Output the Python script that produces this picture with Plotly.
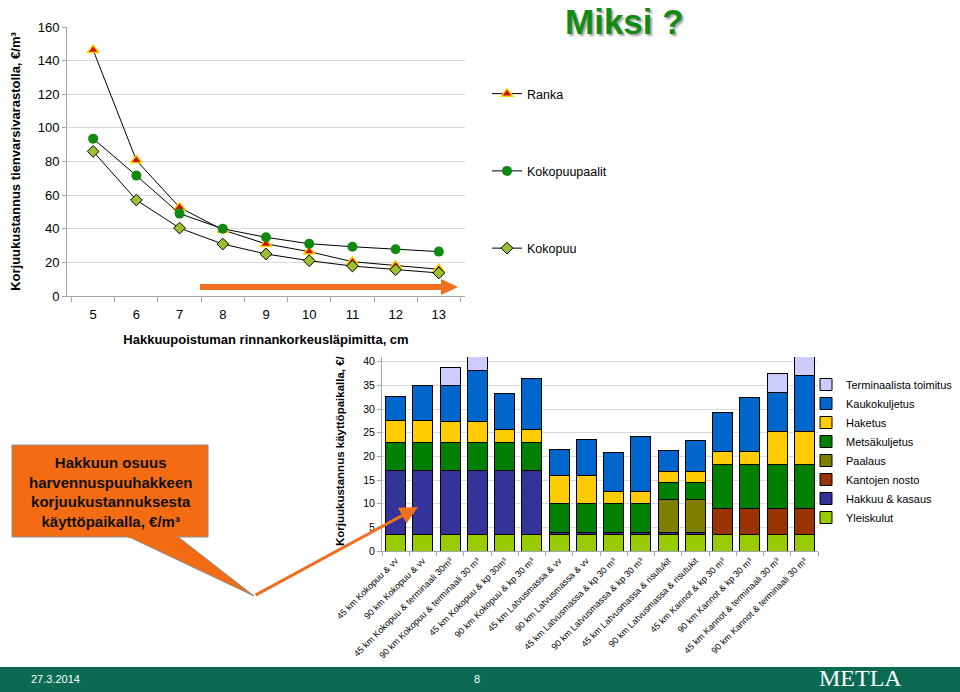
import plotly.graph_objects as go

W, H = 960, 692
def px(x): return x / W
def py(y): return 1 - y / H

# ---------- top chart data ----------
diameters = ["5", "6", "7", "8", "9", "10", "11", "12", "13"]
ranka = [146.3, 80.7, 52.7, 39.3, 31.0, 26.4, 20.4, 18.0, 15.9]
kokopuupaalit = [93.6, 71.6, 49.0, 40.0, 34.9, 31.1, 29.3, 27.8, 26.4]
kokopuu = [86.0, 57.1, 40.4, 30.9, 25.0, 21.0, 17.8, 15.6, 13.7]

# ---------- bottom chart data ----------
chains = [
    "45 km Kokopuu & vv", "90 km Kokopuu & vv",
    "45 km Kokopuu & terminaali 30m³", "90 km Kokopuu & terminaali 30 m³",
    "45 km Kokopuu & kp 30m³", "90 km Kokopuu & kp 30 m³",
    "45 km Latvusmassa & vv", "90 km Latvusmassa & vv",
    "45 km Latvusmassa & kp 30 m³", "90 km Latvusmassa & kp 30 m³",
    "45 km Latvusmassa & risutukit", "90 km Latvusmassa & risutukit",
    "45 km Kannot & kp 30 m³", "90 km Kannot & kp 30 m³",
    "45 km Kannot & terminaali 30 m³", "90 km Kannot & terminaali 30 m³",
]
yleiskulut = [3.5, 3.5, 3.5, 3.5, 3.5, 3.5, 3.5, 3.5, 3.5, 3.5, 3.5, 3.5, 3.5, 3.5, 3.5, 3.5]
hakkuu_kasaus = [13.5, 13.5, 13.5, 13.5, 13.5, 13.5, 0.4, 0.4, 0.4, 0.4, 0.4, 0.4, None, None, None, None]
kantojen_nosto = [None] * 12 + [5.5, 5.5, 5.5, 5.5]
paalaus = [None, None, None, None, None, None, None, None, None, None, 6.9, 6.9, None, None, None, None]
metsakuljetus = [6.0, 6.0, 6.0, 6.0, 6.0, 6.0, 6.1, 6.1, 6.1, 6.1, 3.7, 3.7, 9.3, 9.3, 9.3, 9.3]
haketus = [4.6, 4.6, 4.3, 4.3, 2.7, 2.7, 6.0, 6.0, 2.6, 2.6, 2.3, 2.3, 2.7, 2.7, 7.0, 7.0]
kaukokuljetus = [5.1, 7.3, 7.6, 10.8, 7.5, 10.7, 5.5, 7.6, 8.2, 11.5, 4.5, 6.6, 8.2, 11.4, 8.2, 11.7]
terminaalista = [None, None, 3.8, 3.5, None, None, None, None, None, None, None, None, None, None, 4.1, 4.5]

bar_series = [
    ("Yleiskulut", yleiskulut, "#99CC00"),
    ("Hakkuu & kasaus", hakkuu_kasaus, "#333399"),
    ("Kantojen nosto", kantojen_nosto, "#993300"),
    ("Paalaus", paalaus, "#808000"),
    ("Metsäkuljetus", metsakuljetus, "#008000"),
    ("Haketus", haketus, "#FFCC00"),
    ("Kaukokuljetus", kaukokuljetus, "#0066CC"),
    ("Terminaalista toimitus", terminaalista, "#CCCCFF"),
]

FONT = "Liberation Sans, Arial, sans-serif"
fig = go.Figure()

# top lines
fig.add_trace(go.Scatter(
    x=diameters, y=ranka, name="Ranka", mode="lines+markers",
    line=dict(color="black", width=1),
    marker=dict(symbol="triangle-up", size=10, color="#D01010", line=dict(color="#FFD000", width=1.5)),
    xaxis="x", yaxis="y", legend="legend", legendgroup="a"))
fig.add_trace(go.Scatter(
    x=diameters, y=kokopuupaalit, name="Kokopuupaalit", mode="lines+markers",
    line=dict(color="black", width=1),
    marker=dict(symbol="circle", size=10, color="#108A10", line=dict(color="#108A10", width=0)),
    xaxis="x", yaxis="y", legend="legend", legendgroup="b"))
fig.add_trace(go.Scatter(
    x=diameters, y=kokopuu, name="Kokopuu", mode="lines+markers",
    line=dict(color="black", width=1),
    marker=dict(symbol="diamond", size=9, color="#99C22E", line=dict(color="black", width=1)),
    xaxis="x", yaxis="y", legend="legend", legendgroup="c"))

# bottom stacked bars
for name, vals, col in bar_series:
    fig.add_trace(go.Bar(
        x=chains, y=vals, name=name, marker=dict(color=col, line=dict(color="black", width=1)),
        xaxis="x2", yaxis="y2", legend="legend2"))

shapes = []
# footer band
shapes.append(dict(type="rect", xref="paper", yref="paper", x0=0, x1=1, y0=0, y1=py(667),
                   fillcolor="#0A6B52", line=dict(width=0), layer="below"))
# callout box
shapes.append(dict(type="rect", xref="paper", yref="paper", x0=px(12), x1=px(208), y0=py(537), y1=py(445),
                   fillcolor="#F36C13", line=dict(color="#8C8C8C", width=1)))
shapes.append(dict(type="path", xref="paper", yref="paper",
                   path=f"M {px(127)},{py(536)} L {px(254)},{py(596)} L {px(177)},{py(536)} Z",
                   fillcolor="#F36C13", line=dict(color="#8C8C8C", width=1)))
# cover the line between box and pointer
shapes.append(dict(type="rect", xref="paper", yref="paper", x0=px(128), x1=px(176), y0=py(538), y1=py(535),
                   fillcolor="#F36C13", line=dict(width=0)))
# orange arrow in top chart
ay0, ay1 = 284, 290
shapes.append(dict(type="path", xref="paper", yref="paper",
                   path=(f"M {px(200)},{py(ay0)} L {px(441)},{py(ay0)} L {px(441)},{py(279)} "
                         f"L {px(458)},{py(287)} L {px(441)},{py(295)} L {px(441)},{py(ay1)} "
                         f"L {px(200)},{py(ay1)} Z"),
                   fillcolor="#F07020", line=dict(width=0)))

annotations = [
    # title
    dict(text="<b>Miksi ?</b>", x=px(624), y=py(21), xref="paper", yref="paper", showarrow=False,
         xanchor="center", yanchor="middle",
         font=dict(family=FONT, size=35, color="#138A13", shadow="2px 2px 2px rgba(90,90,90,0.55)")),
    # callout text
    dict(text="<b>Hakkuun osuus<br>harvennuspuuhakkeen<br>korjuukustannuksesta<br>käyttöpaikalla, €/m³</b>",
         x=px(110), y=py(492), xref="paper", yref="paper", showarrow=False,
         xanchor="center", yanchor="middle", align="center",
         font=dict(family=FONT, size=15, color="#111111")),
    # orange pointer arrow to bars
    dict(text="", x=px(418), y=py(507), xref="paper", yref="paper", showarrow=True,
         ax=-164, ay=89, arrowhead=2, arrowsize=1.2, arrowwidth=3, arrowcolor="#F07020"),
    # footer texts
    dict(text="27.3.2014", x=px(29), y=py(679), xref="paper", yref="paper", showarrow=False,
         xanchor="left", yanchor="middle", font=dict(family=FONT, size=11, color="white")),
    dict(text="8", x=px(477), y=py(679), xref="paper", yref="paper", showarrow=False,
         xanchor="center", yanchor="middle", font=dict(family=FONT, size=11, color="white")),
    dict(text="METLA", x=px(860), y=py(678), xref="paper", yref="paper", showarrow=False,
         xanchor="center", yanchor="middle",
         font=dict(family="Liberation Serif, Times New Roman, serif", size=24, color="white")),
    # bottom y-axis title
    dict(text="<b>Korjuukustannus käyttöpaikalla, €/</b>", x=px(340), y=py(451), xref="paper", yref="paper",
         showarrow=False, textangle=-90, xanchor="center", yanchor="middle",
         font=dict(family=FONT, size=11.5, color="black")),
]

fig.update_layout(
    width=W, height=H, margin=dict(l=0, r=0, t=0, b=0, autoexpand=False),
    paper_bgcolor="white", plot_bgcolor="white",
    font=dict(family=FONT, color="black"),
    barmode="stack", bargap=0.27,
    shapes=shapes, annotations=annotations,
    xaxis=dict(domain=[px(67), px(465)], anchor="y", type="category", automargin=False,
               showgrid=False, showline=True, linecolor="#A6A6A6", linewidth=1,
               ticks="outside", tickson="boundaries", ticklen=5, tickcolor="#A6A6A6",
               ticklabelstandoff=6,
               tickfont=dict(size=13), title=dict(text="<b>Hakkuupoistuman rinnankorkeusläpimitta, cm</b>",
                                                  font=dict(size=13), standoff=14)),
    yaxis=dict(domain=[py(296), py(27)], anchor="x", range=[0, 160], dtick=20, automargin=False,
               showgrid=True, gridcolor="#D9D9D9", zeroline=False,
               showline=True, linecolor="#A6A6A6", ticks="outside", ticklen=4, tickcolor="#A6A6A6",
               tickfont=dict(size=13),
               title=dict(text="<b>Korjuukustannus tienvarsivarastolla, €/m³</b>", font=dict(size=13), standoff=14)),
    xaxis2=dict(domain=[px(382), px(818)], anchor="y2", type="category", automargin=False,
                showgrid=False, showline=True, linecolor="#A6A6A6",
                ticks="outside", tickson="boundaries", ticklen=4, tickcolor="#A6A6A6",
                tickangle=-45, tickfont=dict(size=9)),
    yaxis2=dict(domain=[py(551), py(357)], anchor="x2", range=[0, 41], automargin=False,
                tickvals=[0, 5, 10, 15, 20, 25, 30, 35, 40],
                showgrid=True, gridcolor="#D9D9D9", zeroline=False,
                showline=True, linecolor="#A6A6A6", ticks="outside", ticklen=4, tickcolor="#A6A6A6",
                tickfont=dict(size=10.5)),
    legend=dict(x=px(487), y=py(79), xanchor="left", yanchor="top", bgcolor="rgba(0,0,0,0)",
                font=dict(size=12.5), traceorder="grouped", tracegroupgap=58, itemwidth=30),
    legend2=dict(x=px(806), y=py(370), xanchor="left", yanchor="top", bgcolor="rgba(0,0,0,0)",
                 font=dict(size=11), traceorder="reversed", tracegroupgap=0, itemwidth=30),
)

fig.write_html("out.html", config={"displayModeBar": False},
               post_script="document.body.style.margin='0';document.body.style.overflow='hidden';")
